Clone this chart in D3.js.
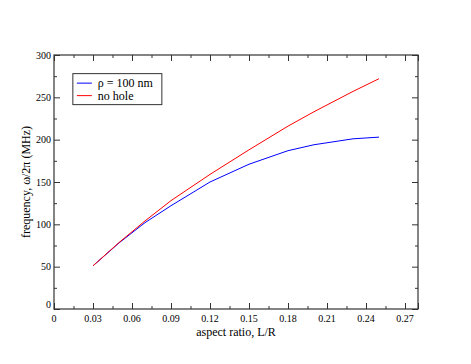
<!DOCTYPE html>
<html>
<head>
<meta charset="utf-8">
<script src="https://cdn.jsdelivr.net/npm/d3@7"></script>
<style>
  body { margin: 0; background: #fff; }
  svg text { font-family: "Liberation Serif", "Times New Roman", "DejaVu Serif", serif; fill: #000; }
</style>
</head>
<body>
<svg id="chart" width="471" height="364"></svg>
<script>
// aspect ratio L/R
var ratio = [0.03, 0.05, 0.07, 0.09, 0.12, 0.15, 0.18, 0.20, 0.23, 0.25];
// frequency w/2pi (MHz)
var withHole = [51, 78, 102, 122, 150, 171, 187, 194, 201, 203];
var noHole = [51, 78.5, 104, 128, 159, 188, 216, 233, 257, 272];
var seriesNames = ["\u03c1 = 100 nm", "no hole"];
var xTicks = [0, 0.03, 0.06, 0.09, 0.12, 0.15, 0.18, 0.21, 0.24, 0.27];
var yTicks = [0, 50, 100, 150, 200, 250, 300];

var margin = {top: 55, right: 53, bottom: 55, left: 54};
var width = 471 - margin.left - margin.right;
var height = 364 - margin.top - margin.bottom;

var x = d3.scaleLinear().domain([0, 0.28]).range([0, width]);
var y = d3.scaleLinear().domain([0, 300]).range([height, 0]);
var colour = d3.scaleOrdinal().domain(seriesNames).range(["#0000ff", "#ff0000"]);

var svg = d3.select("#chart");
var chart = svg.append("g")
  .attr("transform", "translate(" + margin.left + "," + margin.top + ")");

var minorX = d3.range(0.015, 0.28, 0.03);
var minorY = d3.range(25, 300, 50);

function tickGroup(axis, tx, ty) {
  var g = chart.append("g")
    .attr("transform", "translate(" + tx + "," + ty + ")")
    .call(axis);
  g.select(".domain").remove();
  g.selectAll("line").attr("stroke", "#333");
  return g;
}

// major ticks, inward, all four sides
tickGroup(d3.axisBottom(x).tickValues(xTicks.concat([0.28])).tickSize(-6).tickFormat(""), 0, height);
tickGroup(d3.axisTop(x).tickValues(xTicks.concat([0.28])).tickSize(-6).tickFormat(""), 0, 0);
tickGroup(d3.axisLeft(y).tickValues(yTicks).tickSize(-6).tickFormat(""), 0, 0);
tickGroup(d3.axisRight(y).tickValues(yTicks).tickSize(-6).tickFormat(""), width, 0);
// minor ticks
tickGroup(d3.axisBottom(x).tickValues(minorX).tickSize(-3).tickFormat(""), 0, height);
tickGroup(d3.axisTop(x).tickValues(minorX).tickSize(-3).tickFormat(""), 0, 0);
tickGroup(d3.axisLeft(y).tickValues(minorY).tickSize(-3).tickFormat(""), 0, 0);
tickGroup(d3.axisRight(y).tickValues(minorY).tickSize(-3).tickFormat(""), width, 0);

// frame
chart.append("rect")
  .attr("width", width)
  .attr("height", height)
  .attr("fill", "none")
  .attr("stroke", "#333")
  .attr("stroke-width", 1.2);

// tick labels
chart.selectAll(".xlab")
  .data(xTicks)
  .enter().append("text")
  .attr("x", function(d) { return x(d); })
  .attr("y", height + 13)
  .attr("text-anchor", "middle")
  .style("font-size", "10px")
  .text(function(d) { return d === 0 ? "0" : d3.format(".2f")(d); });

chart.selectAll(".ylab")
  .data(yTicks)
  .enter().append("text")
  .attr("x", -3)
  .attr("y", function(d) { return y(d) + (d === 0 ? -1 : 3.5); })
  .attr("text-anchor", "end")
  .style("font-size", "10px")
  .text(function(d) { return d; });

// axis titles
chart.append("text")
  .attr("x", width / 2)
  .attr("y", height + 27)
  .attr("text-anchor", "middle")
  .style("font-size", "12px")
  .text("aspect ratio, L/R");

chart.append("text")
  .attr("transform", "translate(-24," + (height / 2) + ") rotate(-90)")
  .attr("text-anchor", "middle")
  .style("font-size", "12px")
  .text("frequency,  \u03c9/2\u03c0 (MHz)");

// curves
var line = d3.line()
  .x(function(d) { return x(d[0]); })
  .y(function(d) { return y(d[1]); });

[withHole, noHole].forEach(function(vals, i) {
  chart.append("path")
    .datum(ratio.map(function(r, j) { return [r, vals[j]]; }))
    .attr("fill", "none")
    .attr("stroke", colour(seriesNames[i]))
    .attr("stroke-width", 1)
    .attr("d", line);
});

// legend
var legend = chart.append("g")
  .attr("transform", "translate(" + (x(0.0145)) + "," + (y(278)) + ")");

legend.append("rect")
  .attr("width", 89)
  .attr("height", 31)
  .attr("fill", "#fff")
  .attr("stroke", "#333");

var item = legend.selectAll(".legend")
  .data(seriesNames)
  .enter().append("g")
  .attr("transform", function(d, i) { return "translate(0," + (9.5 + i * 12.5) + ")"; });

item.append("line")
  .attr("x1", 4)
  .attr("x2", 19)
  .attr("stroke", function(d) { return colour(d); });

item.append("text")
  .attr("x", 25)
  .attr("y", 4)
  .style("font-size", "12px")
  .text(function(d) { return d; });
</script>
</body>
</html>
